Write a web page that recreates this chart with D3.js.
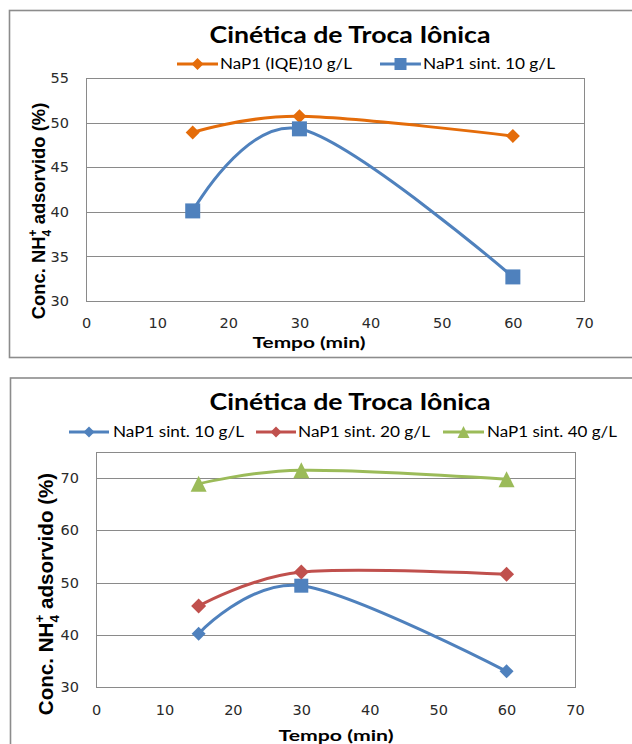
<!DOCTYPE html>
<html>
<head>
<meta charset="utf-8">
<script src="https://cdn.jsdelivr.net/npm/d3@7"></script>
<style>
  body { margin: 0; background: #fff; }
  svg { display: block; }
</style>
</head>
<body>
<svg id="chart" width="632" height="744"></svg>
<script>
// Sampling times (min) and NH4+ uptake (%) for each sample
const tempo = [15, 30, 60];
const iqe10 = [48.9, 50.7, 48.5];        // NaP1 (IQE) 10 g/L
const sint10a = [40.1, 49.3, 32.7];      // NaP1 sint. 10 g/L (first run)
const sint10 = [40.2, 49.4, 33.0];       // NaP1 sint. 10 g/L
const sint20 = [45.5, 52.0, 51.6];       // NaP1 sint. 20 g/L
const sint40 = [68.9, 71.5, 69.8];       // NaP1 sint. 40 g/L

const xTicks = [0, 10, 20, 30, 40, 50, 60, 70];
const yTicksA = [30, 35, 40, 45, 50, 55];
const yTicksB = [30, 40, 50, 60, 70];

const chartTitle = "Cinética de Troca Iônica";
const xTitle = "Tempo (min)";
const legendA = ["NaP1 (IQE)10 g/L", "NaP1 sint. 10 g/L"];
const legendB = ["NaP1 sint. 10 g/L", "NaP1 sint. 20 g/L", "NaP1 sint. 40 g/L"];

const COLORS = { orange: "#E46C0A", blue: "#4F81BD", red: "#C0504D", green: "#9BBB59" };
const GRID = "#8a8a8a";
const FRAME = "#8c8c8c";

// Marker shapes for d3.symbol (size = width squared)
const symSquare = { draw(ctx, size) { const r = Math.sqrt(size) / 2; ctx.rect(-r, -r, 2 * r, 2 * r); } };
const symDiamond = { draw(ctx, size) { const r = Math.sqrt(size) / 2; ctx.moveTo(0, -r); ctx.lineTo(r, 0); ctx.lineTo(0, r); ctx.lineTo(-r, 0); ctx.closePath(); } };
const symTriangle = { draw(ctx, size) { const r = Math.sqrt(size) / 2; ctx.moveTo(0, -r); ctx.lineTo(r, r); ctx.lineTo(-r, r); ctx.closePath(); } };
const SYMBOLS = { square: symSquare, diamond: symDiamond, triangle: symTriangle };

const svg = d3.select("#chart");

function drawChart(cfg) {
  const g = svg.append("g");

  // outer chart frame
  g.append("rect")
    .attr("x", cfg.frame.x).attr("y", cfg.frame.y)
    .attr("width", cfg.frame.w).attr("height", cfg.frame.h)
    .attr("fill", "#fff").attr("stroke", FRAME).attr("stroke-width", 1.6);

  const x = d3.scaleLinear().domain([0, 70]).range([cfg.plot.left, cfg.plot.right]);
  const y = d3.scaleLinear().domain(cfg.yDomain).range([cfg.plot.bottom, cfg.plot.top]);

  // plot area box
  g.append("rect")
    .attr("x", cfg.plot.left + 0.5).attr("y", cfg.plot.top + 0.5)
    .attr("width", cfg.plot.right - cfg.plot.left).attr("height", cfg.plot.bottom - cfg.plot.top)
    .attr("fill", "none").attr("stroke", GRID).attr("stroke-width", 1);

  // horizontal gridlines
  g.append("g").selectAll("line").data(cfg.yTicks).join("line")
    .attr("x1", cfg.plot.left).attr("x2", cfg.plot.right)
    .attr("y1", d => Math.round(y(d)) + 0.5).attr("y2", d => Math.round(y(d)) + 0.5)
    .attr("stroke", GRID).attr("stroke-width", 1);

  // y axis labels
  const yAxis = d3.axisLeft(y).tickValues(cfg.yTicks).tickSize(0).tickPadding(17).tickFormat(d3.format("d"));
  const ya = g.append("g").attr("transform", `translate(${cfg.plot.left},0)`).call(yAxis);
  ya.select(".domain").remove();
  ya.selectAll("text").attr("font-family", "DejaVu Sans").attr("font-size", cfg.tickSize).attr("fill", "#2a2a2a");

  // x axis labels
  const xAxis = d3.axisBottom(x).tickValues(xTicks).tickSize(0).tickPadding(cfg.xPad).tickFormat(d3.format("d"));
  const xa = g.append("g").attr("transform", `translate(0,${cfg.plot.bottom})`).call(xAxis);
  xa.select(".domain").remove();
  xa.selectAll("text").attr("font-family", "DejaVu Sans").attr("font-size", cfg.tickSize).attr("fill", "#2a2a2a");

  // titles
  g.append("text").attr("x", cfg.title.x).attr("y", cfg.title.y)
    .attr("text-anchor", "middle").attr("font-family", "Lato").attr("font-weight", "bold")
    .attr("font-size", 23).attr("textLength", cfg.title.len).attr("lengthAdjust", "spacingAndGlyphs")
    .attr("fill", "#000").text(chartTitle);

  g.append("text").attr("x", cfg.xTitle.x).attr("y", cfg.xTitle.y)
    .attr("text-anchor", "middle").attr("font-family", "Lato").attr("font-weight", "bold")
    .attr("font-size", 15.5).attr("textLength", cfg.xTitle.len).attr("lengthAdjust", "spacingAndGlyphs")
    .attr("fill", "#000").text(xTitle);

  const yt = g.append("text")
    .attr("transform", `translate(${cfg.yTitle.x},${cfg.yTitle.y}) rotate(-90)`)
    .attr("text-anchor", "middle").attr("font-family", "Liberation Sans").attr("font-weight", "bold")
    .attr("font-size", cfg.yTitle.size).attr("fill", "#000");
  yt.append("tspan").text("Conc. NH");
  yt.append("tspan").attr("font-size", cfg.yTitle.size * 0.65).attr("dy", cfg.yTitle.size * 0.3).text("4");
  yt.append("tspan").attr("font-size", cfg.yTitle.size * 0.65).attr("dx", -cfg.yTitle.size * 0.36)
    .attr("dy", -cfg.yTitle.size * 0.75).text("+");
  yt.append("tspan").attr("dy", cfg.yTitle.size * 0.45).text(" adsorvido (%)");

  // series lines and markers
  const line = d3.line().x(d => x(d[0])).y(d => y(d[1])).curve(d3.curveCatmullRom.alpha(0));
  cfg.series.forEach(s => {
    const pts = tempo.map((t, i) => [t, s.values[i]]);
    g.append("path").attr("d", line(pts)).attr("fill", "none")
      .attr("stroke", s.color).attr("stroke-width", 3).attr("stroke-linejoin", "round").attr("stroke-linecap", "round");
    g.append("g").selectAll("path").data(pts).join("path")
      .attr("transform", d => `translate(${x(d[0])},${y(d[1])})`)
      .attr("d", (d, i) => {
        const type = (s.markerAt && s.markerAt[i]) || s.marker;
        const w = s.markerSize[type];
        return d3.symbol().type(SYMBOLS[type]).size(w * w)();
      })
      .attr("fill", s.color);
  });

  // legend
  cfg.legend.forEach((L, i) => {
    const s = cfg.series[i];
    const lg = g.append("g");
    lg.append("line").attr("x1", L.x0).attr("x2", L.x1).attr("y1", cfg.legendY).attr("y2", cfg.legendY)
      .attr("stroke", s.color).attr("stroke-width", 3);
    const w = s.legendMarker;
    lg.append("path").attr("transform", `translate(${(L.x0 + L.x1) / 2},${cfg.legendY})`)
      .attr("d", d3.symbol().type(SYMBOLS[s.marker]).size(w * w)()).attr("fill", s.color);
    lg.append("text").attr("x", L.tx).attr("y", cfg.legendY + 5)
      .attr("font-family", "Lato").attr("font-size", 14.5)
      .attr("textLength", L.tw).attr("lengthAdjust", "spacingAndGlyphs")
      .attr("fill", "#000").text(L.label);
  });
}

drawChart({
  frame: { x: 9.5, y: 10.5, w: 700, h: 347 },
  plot: { left: 86, right: 584, top: 78, bottom: 301 },
  yDomain: [30, 55], yTicks: yTicksA, tickSize: 14.5, xPad: 17,
  title: { x: 350, y: 43, len: 281 },
  xTitle: { x: 309, y: 348, len: 113 },
  yTitle: { x: 45, y: 211, size: 18.4 },
  legendY: 64,
  legend: [
    { x0: 177, x1: 218, tx: 220, tw: 132, label: legendA[0] },
    { x0: 380, x1: 421, tx: 423, tw: 132, label: legendA[1] }
  ],
  series: [
    { values: iqe10, color: COLORS.orange, marker: "diamond", markerSize: { diamond: 14 }, legendMarker: 12 },
    { values: sint10a, color: COLORS.blue, marker: "square", markerSize: { square: 15 }, legendMarker: 12 }
  ]
});

drawChart({
  frame: { x: 10.5, y: 378, w: 700, h: 420 },
  plot: { left: 96, right: 575, top: 452, bottom: 687 },
  yDomain: [30, 75], yTicks: yTicksB, tickSize: 14.5, xPad: 18,
  title: { x: 350, y: 410, len: 281 },
  xTitle: { x: 336, y: 741, len: 115 },
  yTitle: { x: 53, y: 594, size: 20.6 },
  legendY: 432,
  legend: [
    { x0: 69, x1: 109, tx: 113, tw: 131, label: legendB[0] },
    { x0: 256, x1: 296, tx: 298, tw: 132, label: legendB[1] },
    { x0: 443, x1: 484, tx: 487, tw: 130, label: legendB[2] }
  ],
  series: [
    { values: sint10, color: COLORS.blue, marker: "diamond", markerAt: { 1: "square" },
      markerSize: { diamond: 14, square: 14 }, legendMarker: 11 },
    { values: sint20, color: COLORS.red, marker: "diamond", markerSize: { diamond: 15 }, legendMarker: 11 },
    { values: sint40, color: COLORS.green, marker: "triangle", markerSize: { triangle: 16 }, legendMarker: 12 }
  ]
});
</script>
</body>
</html>
